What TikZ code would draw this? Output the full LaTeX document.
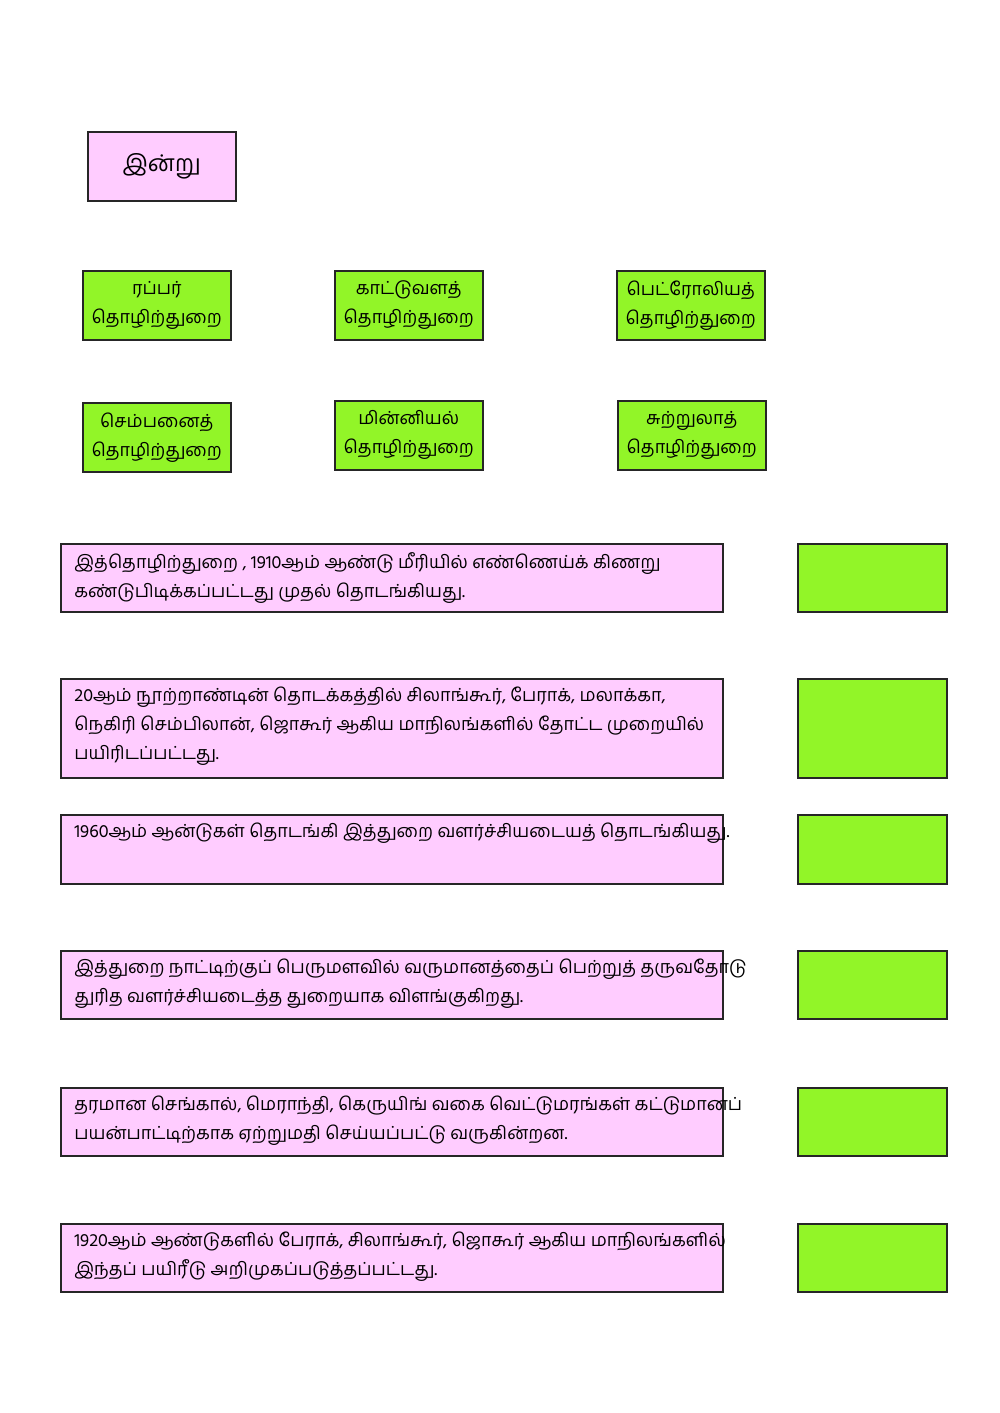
\documentclass[tikz,border=0pt]{standalone}
\usepackage{fontspec}
\newfontfamily\tam[Script=Tamil]{Hind Madurai}
\definecolor{pk}{RGB}{255,204,255}
\definecolor{gr}{RGB}{146,245,40}
\begin{document}
\begin{tikzpicture}[x=0.5pt,y=-0.5pt,
 box/.style={draw=black!85, line width=0.8pt, anchor=north west, inner sep=0pt},
 pkbox/.style={box, fill=pk},
 grbox/.style={box, fill=gr},
 lbl/.style={font=\tam\fontsize{9}{14.5}\selectfont, align=center},
 txt/.style={font=\tam\fontsize{9}{14.5}\selectfont, align=left, anchor=north west, inner sep=0pt}]
\useasboundingbox (0,0) rectangle (1000,1413);
\node[pkbox, minimum width=74pt, minimum height=34.5pt] (today) at (87,131) {};
\node[font=\tam\fontsize{11.5}{14}\selectfont] at (today.center) {இன்று};
\foreach \n/\x/\y/\t in {a/82/270/ரப்பர், b/334/270/காட்டுவளத், c/616/270/பெட்ரோலியத், d/82/402/செம்பனைத், e/334/400/மின்னியல், f/617/400/சுற்றுலாத்}{
 \node[grbox, minimum width=74pt, minimum height=34.5pt] (\n) at (\x,\y) {};
 \node[lbl] at (\n.center) {\t\\தொழிற்துறை};
}
\foreach \n/\y/\h in {1/543/34, 2/678/49.5, 3/814/34.5, 4/950/34, 5/1087/34, 6/1223/34}{
 \node[pkbox, minimum width=331pt, minimum height=\h pt] (p\n) at (60,\y) {};
 \node[grbox, minimum width=74.5pt, minimum height=\h pt] (g\n) at (797,\y) {};
}
\node[txt] at ([xshift=7pt,yshift=-4.5pt]p1.north west) {இத்தொழிற்துறை , 1910ஆம் ஆண்டு மீரியில் எண்ணெய்க் கிணறு\\கண்டுபிடிக்கப்பட்டது முதல் தொடங்கியது.};
\node[txt] at ([xshift=7pt,yshift=-4.5pt]p2.north west) {20ஆம் நூற்றாண்டின் தொடக்கத்தில் சிலாங்கூர், பேராக், மலாக்கா,\\நெகிரி செம்பிலான், ஜொகூர் ஆகிய மாநிலங்களில் தோட்ட முறையில்\\பயிரிடப்பட்டது.};
\node[txt] at ([xshift=7pt,yshift=-4.5pt]p3.north west) {1960ஆம் ஆன்டுகள் தொடங்கி இத்துறை வளர்ச்சியடையத் தொடங்கியது.};
\node[txt] at ([xshift=7pt,yshift=-4.5pt]p4.north west) {இத்துறை நாட்டிற்குப் பெருமளவில் வருமானத்தைப் பெற்றுத் தருவதோடு\\துரித வளர்ச்சியடைத்த துறையாக விளங்குகிறது.};
\node[txt] at ([xshift=7pt,yshift=-4.5pt]p5.north west) {தரமான செங்கால், மெராந்தி, கெருயிங் வகை வெட்டுமரங்கள் கட்டுமானப்\\பயன்பாட்டிற்காக ஏற்றுமதி செய்யப்பட்டு வருகின்றன.};
\node[txt] at ([xshift=7pt,yshift=-4.5pt]p6.north west) {1920ஆம் ஆண்டுகளில் பேராக், சிலாங்கூர், ஜொகூர் ஆகிய மாநிலங்களில்\\இந்தப் பயிரீடு அறிமுகப்படுத்தப்பட்டது.};
\end{tikzpicture}
\end{document}
